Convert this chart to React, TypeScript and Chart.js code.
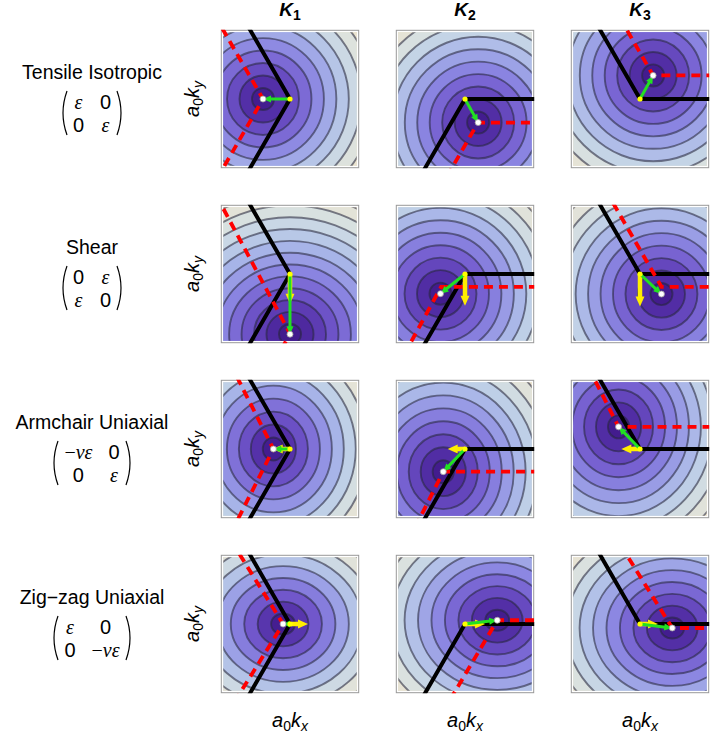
import React, { useEffect, useRef } from "react";
import { Chart, registerables } from "chart.js";

Chart.register(...registerables);

// ---- Panel contents -------------------------------------------------------
// Each panel is centred on an unstrained zone corner K (origin), axes in a0·k.

const valleyLabels = ["1", "2", "3"];
const strainLabels = ["Tensile Isotropic", "Shear", "Armchair Uniaxial", "Zig\u2212zag Uniaxial"];
const strainTensors = [
  [["ε", "0"], ["0", "ε"]],
  [["0", "ε"], ["ε", "0"]],
  [["−νε", "0"], ["0", "ε"]],
  [["ε", "0"], ["0", "−νε"]],
];

// Unstrained zone-boundary edges leaving each K corner (per valley)
const zoneEdges = [
  [[-0.5, 0.866], [-0.5, -0.866]],
  [[1, 0], [-0.5, -0.866]],
  [[-0.5, 0.866], [1, 0]],
];

// Shifted Dirac points [strain][valley]
const diracPoints = [
  [[-0.39, 0], [0.19, -0.34], [0.19, 0.34]],
  [[0, -0.87], [-0.354, -0.284], [0.31, -0.29]],
  [[-0.24, 0], [-0.314, -0.328], [-0.31, 0.32]],
  [[-0.1, 0], [0.466, 0.054], [0.466, -0.058]],
];

// Strained zone corners [strain][valley]
const strainedCorners = [
  [[-0.39, 0], [0.19, -0.34], [0.19, 0.34]],
  [[0, -0.86], [-0.345, -0.185], [0.31, -0.185]],
  [[-0.24, 0], [-0.314, -0.328], [-0.31, 0.32]],
  [[-0.1, 0], [0.466, 0.054], [0.466, -0.058]],
];

// Strained zone-boundary edges leaving the strained corner
const strainedEdges = [
  [[[-0.5, 0.866], [-0.5, -0.866]], [[1, 0], [-0.5, -0.866]], [[-0.5, 0.866], [1, 0]]],
  [[[-0.47, 0.88], [-0.47, -0.88]], [[1, 0], [-0.48, -0.88]], [[-0.5, 0.866], [1, 0]]],
  [[[-0.45, 0.89], [-0.45, -0.89]], [[1, 0], [-0.45, -0.89]], [[-0.45, 0.89], [1, 0]]],
  [[[-0.53, 0.85], [-0.53, -0.85]], [[1, 0], [-0.51, -0.86]], [[-0.53, 0.85], [1, 0]]],
];

// Pseudo-gauge shift of the cone (yellow arrow tip); none for isotropic strain
const gaugeShifts = [
  [null, null, null],
  [[0, -0.43], [0, -0.46], [0, -0.47]],
  [[-0.25, 0], [-0.25, 0], [-0.27, 0]],
  [[0.26, 0], [0.29, 0], [0.26, 0]],
];

// Constant-energy contours, a0|k − kD|
const contourLevels = [0.16, 0.34, 0.52, 0.7, 0.88, 1.06, 1.24, 1.42, 1.6, 1.78, 1.96, 2.14, 2.32, 2.5, 2.68, 2.86, 3.04];

// Contour anisotropy [stretch x, stretch y, tilt in degrees]
const contourShapes = [
  [[1, 1, 0], [1, 1, 0], [1, 1, 0]],
  [[1, 0.95, 0], [1, 1, 0], [1, 1, 0]],
  [[0.96, 1.04, 0], [0.96, 1.04, 0], [0.96, 1.04, 0]],
  [[1.08, 0.95, 0], [1.08, 0.95, 0], [1.08, 0.95, 0]],
];

// Density gradient, dark (low energy) to pale (high energy)
const gradientStops = [0, 0.15, 0.3, 0.45, 0.6, 0.72, 0.85, 1];
const gradientColors = ["#3c1484", "#5430a8", "#7259cd", "#8c87e2", "#a7b3e8", "#c0d1e7", "#d9e1e0", "#ece4d0"];

// ---- Layout ---------------------------------------------------------------
const PANEL = 148;
const panelLefts = [216, 391, 566];
const panelTops = [25, 200, 375, 550];

const SANS = "'Liberation Sans', Arial, sans-serif";
const SERIF = "'Liberation Serif', 'Times New Roman', serif";

function hexRgb(h: string) {
  const n = parseInt(h.slice(1), 16);
  return [(n >> 16) & 255, (n >> 8) & 255, n & 255];
}

function shade(t: number) {
  const u = Math.max(0, Math.min(1, t));
  let i = 0;
  while (i < gradientStops.length - 2 && u > gradientStops[i + 1]) i++;
  const f = (u - gradientStops[i]) / (gradientStops[i + 1] - gradientStops[i]);
  const a = hexRgb(gradientColors[i]);
  const b = hexRgb(gradientColors[i + 1]);
  return `rgb(${a.map((v, k) => Math.round(v + (b[k] - v) * f)).join(",")})`;
}

const pt = (p: number[]) => ({ x: p[0], y: p[1] });
const REACH = 4;
const vee = (o: number[], e: number[][]) => [
  pt([o[0] + e[0][0] * REACH, o[1] + e[0][1] * REACH]),
  pt(o),
  pt([o[0] + e[1][0] * REACH, o[1] + e[1][1] * REACH]),
];

const arrowPlugin = {
  id: "arrowHeads",
  afterDatasetDraw(chart: any, args: any) {
    const ds = chart.data.datasets[args.index];
    if (!ds.arrow) return;
    const pts = args.meta.data;
    const x0 = pts[0].x, y0 = pts[0].y, x1 = pts[1].x, y1 = pts[1].y;
    const len = Math.hypot(x1 - x0, y1 - y0);
    if (len < 0.5) return;
    const ux = (x1 - x0) / len, uy = (y1 - y0) / len;
    const { color, shaft, head, width } = ds.arrow;
    const hl = Math.min(head, len);
    const bx = x1 - ux * hl, by = y1 - uy * hl;
    const { ctx, chartArea: a } = chart;
    ctx.save();
    ctx.beginPath();
    ctx.rect(a.left, a.top, a.right - a.left, a.bottom - a.top);
    ctx.clip();
    ctx.strokeStyle = color;
    ctx.fillStyle = color;
    ctx.lineWidth = shaft;
    ctx.lineCap = "butt";
    if (len > hl) {
      ctx.beginPath();
      ctx.moveTo(x0, y0);
      ctx.lineTo(bx + ux, by + uy);
      ctx.stroke();
    }
    ctx.beginPath();
    ctx.moveTo(x1, y1);
    ctx.lineTo(bx - (uy * width) / 2, by + (ux * width) / 2);
    ctx.lineTo(bx + (uy * width) / 2, by - (ux * width) / 2);
    ctx.closePath();
    ctx.fill();
    ctx.restore();
  },
};

function Panel({ row, col }: { row: number; col: number }) {
  const ref = useRef<HTMLCanvasElement>(null);
  useEffect(() => {
    const K = [0, 0];
    const D = diracPoints[row][col];
    const R = strainedCorners[row][col];
    const G = gaugeShifts[row][col];
    const [sx, sy, tilt] = contourShapes[row][col];

    const bands = {
      id: "energyBands",
      beforeDatasetsDraw(chart: any) {
        const { ctx, chartArea: a, scales } = chart;
        const xs = scales.x, ys = scales.y;
        const cx = xs.getPixelForValue(D[0]);
        const cy = ys.getPixelForValue(D[1]);
        const ux = xs.getPixelForValue(1) - xs.getPixelForValue(0);
        const uy = ys.getPixelForValue(0) - ys.getPixelForValue(1);
        const rot = (tilt * Math.PI) / 180;
        // largest scaled distance inside the panel sets the colour range
        let vmax = 0;
        for (const cxv of [xs.min, xs.max]) {
          for (const cyv of [ys.min, ys.max]) {
            const dx = cxv - D[0], dy = cyv - D[1];
            const c = Math.cos(rot), s = Math.sin(rot);
            const rx = (dx * c - dy * s) / sx, ry = (dx * s + dy * c) / sy;
            vmax = Math.max(vmax, Math.hypot(rx, ry));
          }
        }
        const w = a.right - a.left, h = a.bottom - a.top;
        ctx.save();
        ctx.fillStyle = "#ffffff";
        ctx.fillRect(a.left, a.top, w, h);
        ctx.beginPath();
        ctx.rect(a.left + 2.5, a.top + 2.5, w - 5, h - 5);
        ctx.clip();
        ctx.fillStyle = shade(1);
        ctx.fillRect(a.left, a.top, w, h);
        for (let i = contourLevels.length - 1; i >= 0; i--) {
          const lo = i > 0 ? contourLevels[i - 1] : 0;
          const mid = (lo + contourLevels[i]) / 2;
          ctx.beginPath();
          ctx.ellipse(cx, cy, contourLevels[i] * sx * ux, contourLevels[i] * sy * uy, -rot, 0, Math.PI * 2);
          ctx.fillStyle = shade(mid / vmax);
          ctx.fill();
        }
        ctx.lineWidth = 1.9;
        ctx.strokeStyle = "rgba(40,40,60,0.58)";
        for (let i = 0; i < contourLevels.length; i++) {
          ctx.beginPath();
          ctx.ellipse(cx, cy, contourLevels[i] * sx * ux, contourLevels[i] * sy * uy, -rot, 0, Math.PI * 2);
          ctx.stroke();
        }
        ctx.restore();
        ctx.save();
        ctx.strokeStyle = "#999999";
        ctx.lineWidth = 1;
        ctx.strokeRect(a.left + 0.5, a.top + 0.5, w - 1, h - 1);
        ctx.restore();
      },
    };

    const datasets: any[] = [
      {
        label: "Dirac point",
        data: [pt(D)],
        pointRadius: 3,
        backgroundColor: "#ffffff",
        borderColor: "#a0a0a0",
        borderWidth: 0.8,
        order: 1,
      },
      {
        label: "K",
        data: [pt(K)],
        pointRadius: 2.6,
        backgroundColor: "#ffff00",
        borderWidth: 0,
        order: 2,
      },
      {
        label: "Dirac point shift",
        data: [pt(K), pt(D)],
        showLine: false,
        pointRadius: 0,
        arrow: { color: "#22e022", shaft: 3, head: 8, width: 7 },
        order: 3,
      },
    ];
    if (G) {
      datasets.push({
        label: "gauge shift",
        data: [pt(K), pt(G)],
        showLine: false,
        pointRadius: 0,
        arrow: { color: "#ffee00", shaft: 4.5, head: 10, width: 9 },
        order: 4,
      });
    }
    datasets.push(
      {
        label: "strained zone edge",
        data: vee(R, strainedEdges[row][col]),
        showLine: true,
        borderColor: "#ff0000",
        borderWidth: 3.8,
        borderDash: [9, 6],
        pointRadius: 0,
        tension: 0,
        order: 5,
      },
      {
        label: "zone edge",
        data: vee(K, zoneEdges[col]),
        showLine: true,
        borderColor: "#000000",
        borderWidth: 4,
        pointRadius: 0,
        tension: 0,
        order: 6,
      }
    );

    const chart = new Chart(ref.current as HTMLCanvasElement, {
      type: "scatter",
      data: { datasets },
      options: {
        responsive: false,
        animation: false,
        events: [],
        layout: { padding: 0 },
        plugins: { legend: { display: false }, tooltip: { enabled: false } },
        scales: {
          x: { type: "linear", min: -1, max: 1, display: false },
          y: { type: "linear", min: -1, max: 1, display: false },
        },
      },
      plugins: [bands, arrowPlugin],
    } as any);
    return () => chart.destroy();
  }, [row, col]);

  return (
    <canvas
      ref={ref}
      width={PANEL}
      height={PANEL}
      style={{ position: "absolute", left: panelLefts[col], top: panelTops[row], width: PANEL, height: PANEL }}
    />
  );
}

function WaveVector({ axis }: { axis: string }) {
  return (
    <span>
      <i>a</i>
      <span style={{ fontSize: 14, position: "relative", top: 4 }}>0</span>
      <i>k</i>
      <span style={{ fontSize: 14, fontStyle: "italic", position: "relative", top: 4 }}>{axis}</span>
    </span>
  );
}

function Entry({ s }: { s: string }) {
  if (s === "0") return <span style={{ fontFamily: SANS }}>0</span>;
  if (s.startsWith("−")) {
    return (
      <span style={{ fontFamily: SERIF }}>
        −<i>{s.slice(1)}</i>
      </span>
    );
  }
  return <i style={{ fontFamily: SERIF }}>{s}</i>;
}

function Paren({ right }: { right?: boolean }) {
  return (
    <svg width={8} height={46} style={{ display: "block" }}>
      <path d={right ? "M1,1 Q9,23 1,45" : "M7,1 Q-1,23 7,45"} fill="none" stroke="#000" strokeWidth={1.2} />
    </svg>
  );
}

export default function App() {
  return (
    <div
      style={{
        position: "absolute",
        left: 0,
        top: 0,
        width: 714,
        height: 740,
        overflow: "hidden",
        background: "#ffffff",
        fontFamily: SANS,
        color: "#000",
      }}
    >
      {valleyLabels.map((v, c) => (
        <div
          key={"t" + c}
          style={{
            position: "absolute",
            left: panelLefts[c] + PANEL / 2 - 40,
            width: 80,
            top: -2,
            height: 24,
            lineHeight: "24px",
            textAlign: "center",
            fontSize: 19,
            fontWeight: "bold",
            fontStyle: "italic",
          }}
        >
          K<span style={{ fontSize: 14, fontStyle: "normal", position: "relative", top: 4 }}>{v}</span>
        </div>
      ))}

      {strainLabels.map((name, r) => (
        <React.Fragment key={"r" + r}>
          <div
            style={{
              position: "absolute",
              left: 0,
              width: 184,
              top: panelTops[r] + 36,
              lineHeight: "22px",
              textAlign: "center",
              fontSize: 19.5,
            }}
          >
            {name}
          </div>
          <div
            style={{
              position: "absolute",
              left: 0,
              width: 184,
              top: panelTops[r] + 65,
              height: 48,
              display: "flex",
              justifyContent: "center",
            }}
          >
            <Paren />
            <div
              style={{
                display: "grid",
                gridTemplateColumns: "auto auto",
                columnGap: 16,
                alignContent: "center",
                justifyItems: "center",
                padding: "0 5px",
                lineHeight: "23px",
                fontSize: 20,
              }}
            >
              {strainTensors[r].flat().map((s, k) => (
                <Entry key={k} s={s} />
              ))}
            </div>
            <Paren right />
          </div>
          <div
            style={{
              position: "absolute",
              left: 192 - 40,
              top: panelTops[r] + PANEL / 2 - 12,
              width: 80,
              height: 24,
              lineHeight: "24px",
              textAlign: "center",
              fontSize: 20,
              transform: "rotate(-90deg)",
              whiteSpace: "nowrap",
            }}
          >
            <WaveVector axis="y" />
          </div>
        </React.Fragment>
      ))}

      {panelTops.map((_, r) => panelLefts.map((__, c) => <Panel key={`p${r}${c}`} row={r} col={c} />))}

      {panelLefts.map((l, c) => (
        <div
          key={"x" + c}
          style={{
            position: "absolute",
            left: l + PANEL / 2 - 40,
            top: 708,
            width: 80,
            height: 24,
            lineHeight: "24px",
            textAlign: "center",
            fontSize: 20,
            whiteSpace: "nowrap",
          }}
        >
          <WaveVector axis="x" />
        </div>
      ))}
    </div>
  );
}
